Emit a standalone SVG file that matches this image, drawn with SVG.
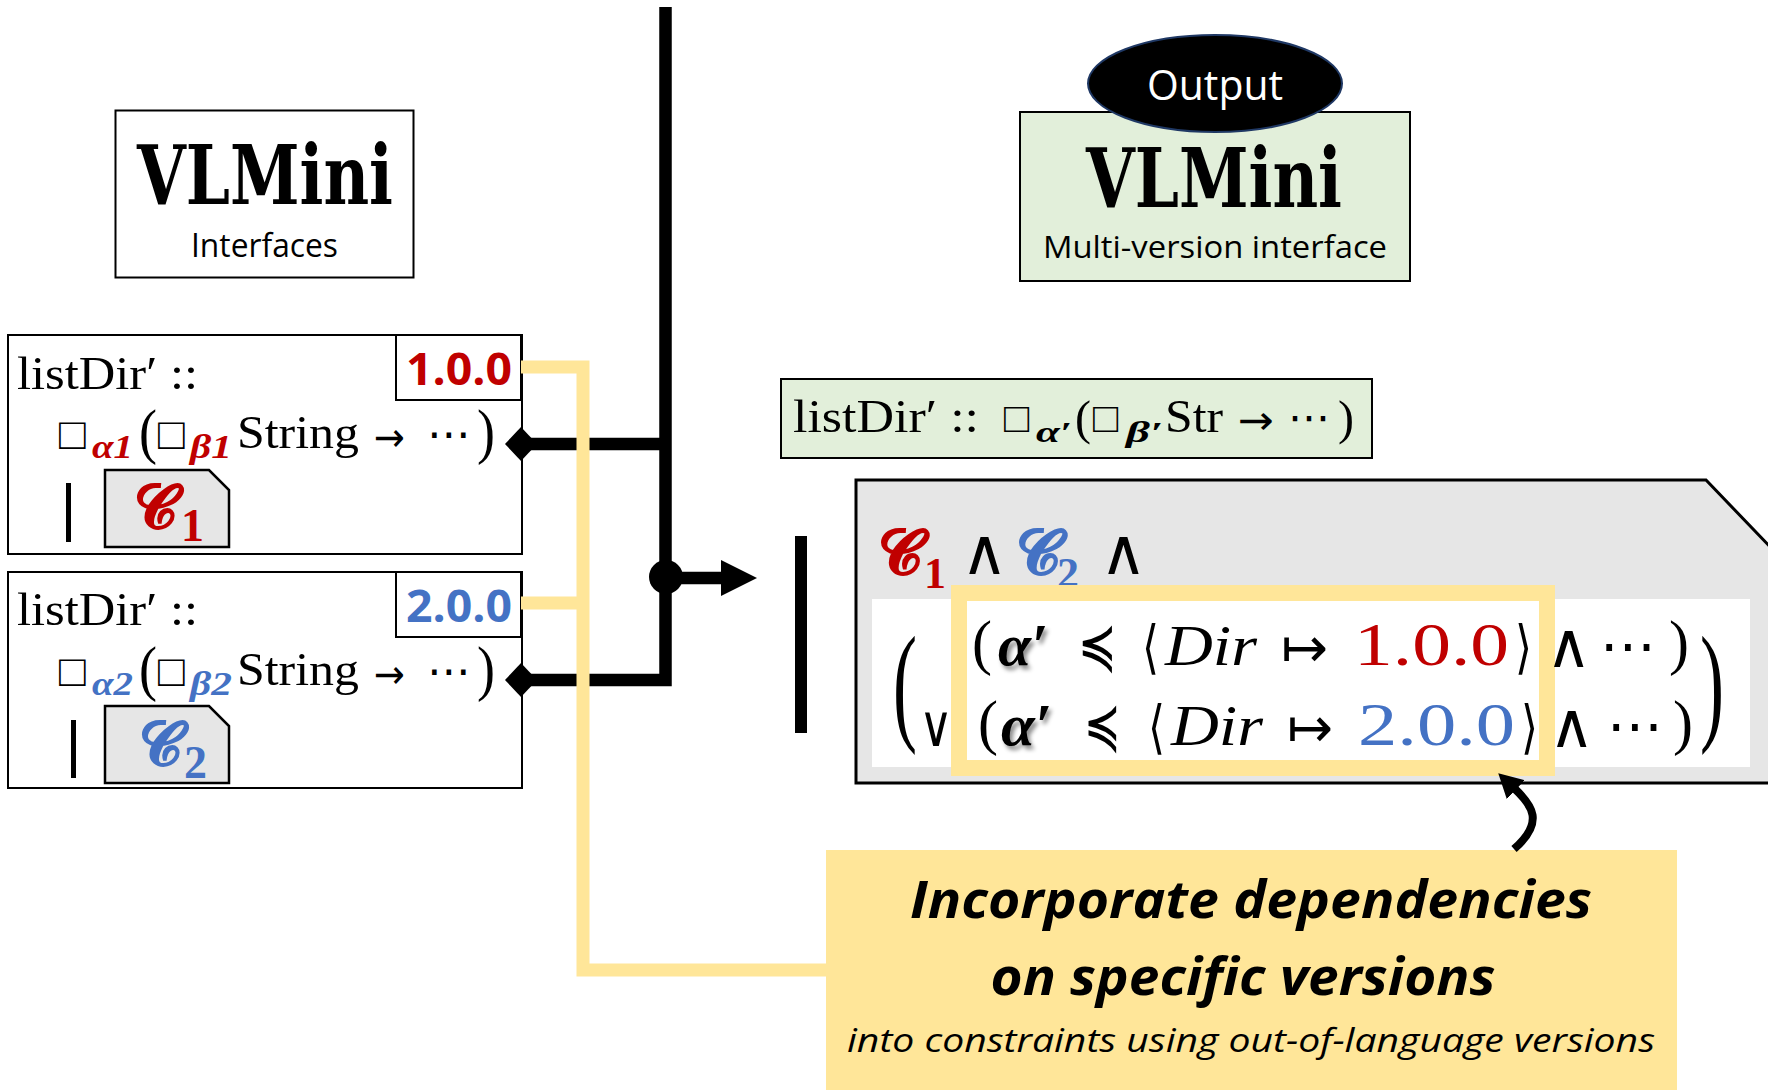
<svg xmlns="http://www.w3.org/2000/svg" width="1768" height="1090" viewBox="0 0 1768 1090">
  <style>
    .box { fill: #ffffff; stroke: #000000; stroke-width: 2; }
    .cbox { fill: #e6e6e6; stroke: #000000; stroke-width: 2.5; }
    .serif { font-family: "Liberation Serif", "DejaVu Serif", serif; fill: #000000; }
    .sym { font-family: "DejaVu Sans", "Liberation Sans", sans-serif; fill: #000000; }
    .sq { font-family: "Liberation Sans", "DejaVu Sans", sans-serif; fill: #000000; }
    .sans { font-family: "Open Sans", "Noto Sans", "Liberation Sans", sans-serif; fill: #000000; }
    .title { font-family: "DejaVu Serif", "Liberation Serif", serif; font-weight: bold; font-size: 82px; fill: #000000; }
    .script { font-family: "DejaVu Serif", "DejaVu Sans", serif; font-weight: bold; }
    .red { fill: #c00000; }
    .blue { fill: #4472c4; }
    .bi { font-style: italic; font-weight: bold; }
    .it { font-style: italic; }
    .ver { font-family: "Open Sans", "Noto Sans", "Liberation Sans", sans-serif; font-weight: bold; font-size: 44px; }
    .wire { fill: none; stroke: #000000; stroke-width: 12.5; stroke-linejoin: miter; }
    .hl { fill: none; stroke: #ffe699; stroke-width: 13; stroke-linejoin: miter; }
  </style>
  <defs>
    <marker id="diamond" viewBox="0 0 32 34" refX="16" refY="17" markerWidth="32" markerHeight="34" markerUnits="userSpaceOnUse" orient="auto">
      <path d="M0,17 L16,0 L32,17 L16,34 Z" fill="#000000"/>
    </marker>
    <marker id="head" viewBox="0 0 36 36" refX="0" refY="18" markerWidth="36" markerHeight="36" markerUnits="userSpaceOnUse" orient="auto">
      <path d="M0,0 L36,18 L0,36 Z" fill="#000000"/>
    </marker>
    <marker id="head-small" viewBox="0 0 24 26" refX="1" refY="13" markerWidth="24" markerHeight="26" markerUnits="userSpaceOnUse" orient="auto">
      <path d="M0,0 L24,13 L0,26 Z" fill="#000000"/>
    </marker>
    <filter id="shadow" x="-30%" y="-30%" width="160%" height="160%">
      <feDropShadow dx="3" dy="4" stdDeviation="2" flood-color="#000000" flood-opacity="0.45"/>
    </filter>
  </defs>

  <!-- input header -->
  <g id="vlmini-interfaces">
    <rect class="box" x="115.5" y="110.5" width="298" height="167"/>
    <text class="title" x="137" y="204" textLength="256" lengthAdjust="spacingAndGlyphs">VLMini</text>
    <text class="sans" x="191" y="257" font-size="33" textLength="147" lengthAdjust="spacingAndGlyphs">Interfaces</text>
  </g>

  <!-- output header -->
  <g id="vlmini-output">
    <rect x="1020" y="112" width="390" height="169" fill="#e2efda" stroke="#000000" stroke-width="2"/>
    <text class="title" x="1086" y="207" textLength="256" lengthAdjust="spacingAndGlyphs">VLMini</text>
    <text class="sans" x="1043" y="258" font-size="31" textLength="344" lengthAdjust="spacingAndGlyphs">Multi-version interface</text>
  </g>
  <g id="output-badge">
    <ellipse cx="1215" cy="83.5" rx="127" ry="48.5" fill="#000000" stroke="#1f3864" stroke-width="2"/>
    <text class="sans" x="1147" y="100" font-size="42" style="fill:#ffffff" textLength="136" lengthAdjust="spacingAndGlyphs">Output</text>
  </g>

  <!-- interface for version 1.0.0 -->
  <g id="iface-1">
    <rect class="box" x="8" y="335" width="514" height="219"/>
    <rect class="box" x="396" y="335" width="125" height="65"/>
    <text class="ver red" x="406" y="385" textLength="106" lengthAdjust="spacingAndGlyphs">1.0.0</text>
    <text class="serif" x="17" y="389" font-size="47" textLength="181" lengthAdjust="spacingAndGlyphs">listDir′ ::</text>
    <text class="sq" x="59" y="449" font-size="44">□</text>
    <text class="serif bi red" x="92" y="458" font-size="34" textLength="41" lengthAdjust="spacingAndGlyphs">α1</text>
    <text class="serif" x="139" y="452" font-size="62" textLength="18" lengthAdjust="spacingAndGlyphs">(</text>
    <text class="sq" x="158" y="449" font-size="44">□</text>
    <text class="serif bi red" x="190" y="458" font-size="34" textLength="42" lengthAdjust="spacingAndGlyphs">β1</text>
    <text class="serif" x="237" y="448" font-size="47" textLength="122" lengthAdjust="spacingAndGlyphs">String</text>
    <text class="sym" x="374" y="451" font-size="40" textLength="31" lengthAdjust="spacingAndGlyphs">→</text>
    <text class="sym" x="427" y="449" font-size="44">⋯</text>
    <text class="serif" x="477" y="452" font-size="62" textLength="18" lengthAdjust="spacingAndGlyphs">)</text>
    <rect x="66" y="483" width="5" height="59" fill="#000000"/>
    <path class="cbox" d="M105,470 H209 L229,490 V547 H105 Z"/>
    <text class="script red" x="134" y="528" font-size="60">𝓒</text>
    <text class="serif red" x="181" y="541" font-size="46" font-weight="bold">1</text>
  </g>

  <!-- interface for version 2.0.0 -->
  <g id="iface-2">
    <rect class="box" x="8" y="572" width="514" height="216"/>
    <rect class="box" x="396" y="572" width="125" height="65"/>
    <text class="ver blue" x="406" y="622" textLength="106" lengthAdjust="spacingAndGlyphs">2.0.0</text>
    <text class="serif" x="17" y="625" font-size="47" textLength="181" lengthAdjust="spacingAndGlyphs">listDir′ ::</text>
    <text class="sq" x="59" y="686" font-size="44">□</text>
    <text class="serif bi blue" x="92" y="695" font-size="34" textLength="41" lengthAdjust="spacingAndGlyphs">α2</text>
    <text class="serif" x="139" y="689" font-size="62" textLength="18" lengthAdjust="spacingAndGlyphs">(</text>
    <text class="sq" x="158" y="686" font-size="44">□</text>
    <text class="serif bi blue" x="190" y="695" font-size="34" textLength="42" lengthAdjust="spacingAndGlyphs">β2</text>
    <text class="serif" x="237" y="685" font-size="47" textLength="122" lengthAdjust="spacingAndGlyphs">String</text>
    <text class="sym" x="374" y="688" font-size="40" textLength="31" lengthAdjust="spacingAndGlyphs">→</text>
    <text class="sym" x="427" y="686" font-size="44">⋯</text>
    <text class="serif" x="477" y="689" font-size="62" textLength="18" lengthAdjust="spacingAndGlyphs">)</text>
    <rect x="71" y="720" width="5" height="58" fill="#000000"/>
    <path class="cbox" d="M105,706 H209 L229,726 V783 H105 Z"/>
    <text class="script blue" x="139" y="765" font-size="60">𝓒</text>
    <text class="serif blue" x="184" y="778" font-size="46" font-weight="bold">2</text>
  </g>

  <!-- merged signature -->
  <g id="merged-signature">
    <rect x="781" y="379" width="591" height="79" fill="#e2efda" stroke="#000000" stroke-width="2"/>
    <text class="serif" x="793" y="432" font-size="47" textLength="186" lengthAdjust="spacingAndGlyphs">listDir′ ::</text>
    <text class="sq" x="1004" y="432" font-size="42">□</text>
    <text class="serif bi" x="1036" y="442" font-size="30" textLength="36" lengthAdjust="spacingAndGlyphs">α′</text>
    <text class="serif" x="1075" y="434" font-size="48" textLength="16" lengthAdjust="spacingAndGlyphs">(</text>
    <text class="sq" x="1093" y="432" font-size="42">□</text>
    <text class="serif bi" x="1126" y="442" font-size="30" textLength="37" lengthAdjust="spacingAndGlyphs">β′</text>
    <text class="serif" x="1165" y="432" font-size="47" textLength="58" lengthAdjust="spacingAndGlyphs">Str</text>
    <text class="sym" x="1238" y="434" font-size="40" textLength="36" lengthAdjust="spacingAndGlyphs">→</text>
    <text class="sym" x="1288" y="432" font-size="42">⋯</text>
    <text class="serif" x="1338" y="434" font-size="48" textLength="16" lengthAdjust="spacingAndGlyphs">)</text>
  </g>

  <!-- merged constraint -->
  <g id="merged-constraint">
    <rect x="795" y="536" width="12" height="197" fill="#000000"/>
    <path d="M856,480 H1706 L1800,578 V783 H856 Z" fill="#e6e6e6" stroke="#000000" stroke-width="3"/>
    <rect x="872" y="599" width="878" height="168" fill="#ffffff"/>
    <text class="script red" x="878" y="574" font-size="62">𝓒</text>
    <text class="serif red" x="924" y="588" font-size="44" font-weight="bold">1</text>
    <text class="sym" x="961" y="574" font-size="64">∧</text>
    <text class="script blue" x="1016" y="574" font-size="62">𝓒</text>
    <text class="serif blue" x="1057" y="588" font-size="44" font-weight="bold">2</text>
    <text class="sym" x="1100" y="574" font-size="64">∧</text>

    <text class="serif" transform="translate(893,727) scale(1,2.25)" font-size="58" textLength="24" lengthAdjust="spacingAndGlyphs">(</text>
    <text class="serif" transform="translate(1700,727) scale(1,2.25)" font-size="58" textLength="24" lengthAdjust="spacingAndGlyphs">)</text>
    <text class="sym" x="919" y="746" font-size="58" textLength="34" lengthAdjust="spacingAndGlyphs">∨</text>

    <rect x="959" y="593" width="588" height="175" fill="#ffffff" stroke="#ffe699" stroke-width="16"/>

    <text class="serif" x="972" y="663" font-size="62" textLength="20" lengthAdjust="spacingAndGlyphs">(</text>
    <text class="serif bi" x="998" y="665" font-size="60" textLength="50" lengthAdjust="spacingAndGlyphs" filter="url(#shadow)">α′</text>
    <text class="sym" x="1078" y="667" font-size="62" textLength="39" lengthAdjust="spacingAndGlyphs">≼</text>
    <text class="sym" x="1142" y="667" font-size="58" textLength="17" lengthAdjust="spacingAndGlyphs">⟨</text>
    <text class="serif it" x="1165" y="665" font-size="58" textLength="92" lengthAdjust="spacingAndGlyphs">Dir</text>
    <text class="sym" x="1281" y="667" font-size="56" textLength="47" lengthAdjust="spacingAndGlyphs">↦</text>
    <text class="serif red" x="1354" y="665" font-size="62" textLength="155" lengthAdjust="spacingAndGlyphs">1.0.0</text>
    <text class="sym" x="1515" y="667" font-size="58" textLength="17" lengthAdjust="spacingAndGlyphs">⟩</text>
    <text class="sym" x="1546" y="667" font-size="62">∧</text>
    <text class="sym" x="1600" y="665" font-size="56">⋯</text>
    <text class="serif" x="1669" y="663" font-size="62" textLength="20" lengthAdjust="spacingAndGlyphs">)</text>

    <text class="serif" x="978" y="743" font-size="62" textLength="20" lengthAdjust="spacingAndGlyphs">(</text>
    <text class="serif bi" x="1001" y="745" font-size="60" textLength="51" lengthAdjust="spacingAndGlyphs" filter="url(#shadow)">α′</text>
    <text class="sym" x="1084" y="747" font-size="62" textLength="37" lengthAdjust="spacingAndGlyphs">≼</text>
    <text class="sym" x="1148" y="747" font-size="58" textLength="17" lengthAdjust="spacingAndGlyphs">⟨</text>
    <text class="serif it" x="1171" y="745" font-size="58" textLength="92" lengthAdjust="spacingAndGlyphs">Dir</text>
    <text class="sym" x="1287" y="747" font-size="56" textLength="46" lengthAdjust="spacingAndGlyphs">↦</text>
    <text class="serif blue" x="1358" y="745" font-size="62" textLength="157" lengthAdjust="spacingAndGlyphs">2.0.0</text>
    <text class="sym" x="1521" y="747" font-size="58" textLength="17" lengthAdjust="spacingAndGlyphs">⟩</text>
    <text class="sym" x="1549" y="747" font-size="62">∧</text>
    <text class="sym" x="1607" y="745" font-size="56">⋯</text>
    <text class="serif" x="1673" y="743" font-size="62" textLength="20" lengthAdjust="spacingAndGlyphs">)</text>
  </g>

  <!-- explanatory note -->
  <g id="note">
    <rect x="826" y="850" width="851" height="240" fill="#ffe699"/>
    <text class="sans bi" x="1251" y="918" font-size="52" text-anchor="middle" textLength="682" lengthAdjust="spacingAndGlyphs">Incorporate dependencies</text>
    <text class="sans bi" x="1243" y="995" font-size="52" text-anchor="middle" textLength="505" lengthAdjust="spacingAndGlyphs">on specific versions</text>
    <text class="sans it" x="1251" y="1052" font-size="33" text-anchor="middle" textLength="808" lengthAdjust="spacingAndGlyphs">into constraints using out-of-language versions</text>
  </g>

  <!-- connectors -->
  <g id="connectors">
    <path class="wire" d="M521,680 H665.5 V7" marker-start="url(#diamond)"/>
    <path class="wire" d="M521,444 H665.5" marker-start="url(#diamond)"/>
    <circle cx="666" cy="577" r="17" fill="#000000"/>
    <path class="wire" d="M666,578 H721" marker-end="url(#head)"/>
    <path class="hl" d="M521,367 H583 V970 H826"/>
    <path class="hl" d="M521,603 H583"/>
    <path d="M1514,849 C1545,822 1532,805 1515,789" fill="none" stroke="#000000" stroke-width="8" marker-end="url(#head-small)"/>
  </g>
</svg>
